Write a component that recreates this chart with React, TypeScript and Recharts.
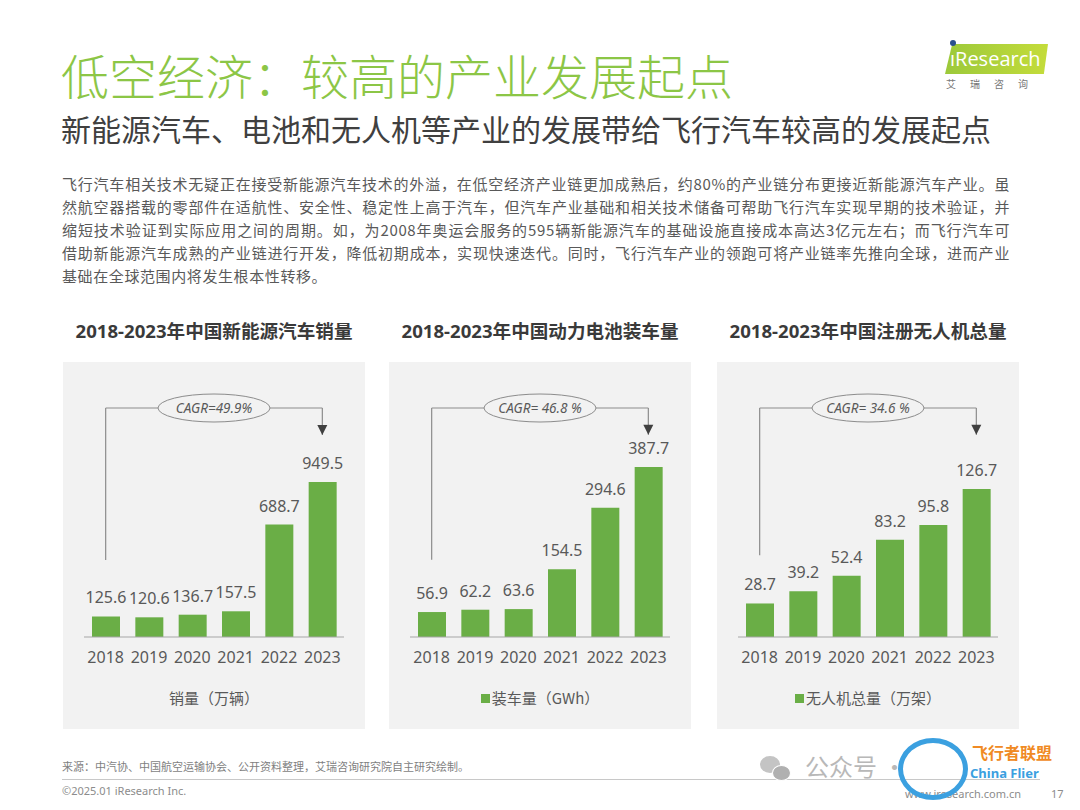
import React from 'react';
import {
  BarChart, Bar, XAxis, YAxis, LabelList, Legend, ReferenceLine, ReferenceDot,
} from 'recharts';

const years = ['2018', '2019', '2020', '2021', '2022', '2023'];
const evSales = [125.6, 120.6, 136.7, 157.5, 688.7, 949.5];
const batteryGwh = [56.9, 62.2, 63.6, 154.5, 294.6, 387.7];
const droneTotal = [28.7, 39.2, 52.4, 83.2, 95.8, 126.7];

const chartTitles = [
  '2018-2023年中国新能源汽车销量',
  '2018-2023年中国动力电池装车量',
  '2018-2023年中国注册无人机总量',
];
const seriesNames = ['销量（万辆）', '装车量（GWh）', '无人机总量（万架）'];
const cagrTexts = ['CAGR=49.9%', 'CAGR= 46.8 %', 'CAGR= 34.6 %'];

const paragraph = [
  '飞行汽车相关技术无疑正在接受新能源汽车技术的外溢，在低空经济产业链更加成熟后，约80%的产业链分布更接近新能源汽车产业。虽',
  '然航空器搭载的零部件在适航性、安全性、稳定性上高于汽车，但汽车产业基础和相关技术储备可帮助飞行汽车实现早期的技术验证，并',
  '缩短技术验证到实际应用之间的周期。如，为2008年奥运会服务的595辆新能源汽车的基础设施直接成本高达3亿元左右；而飞行汽车可',
  '借助新能源汽车成熟的产业链进行开发，降低初期成本，实现快速迭代。同时，飞行汽车产业的领跑可将产业链率先推向全球，进而产业',
  '基础在全球范围内将发生根本性转移。',
];

const GREEN = '#6aae46';
const PANEL = '#f2f2f2';
const TEXT = '#595959';
const LINE = '#8c8c8c';
const CJK = "'Noto Sans CJK SC', 'Noto Sans', sans-serif";
const NUM = "'Noto Sans', 'Noto Sans CJK SC', sans-serif";

// per panel: where it sits, its y range and the CAGR bracket levels (data units)
const panels = [
  { left: 63, values: evSales, yMax: 1403, bracketLow: 472, arrowTip: 1237, swatch: false },
  { left: 389, values: batteryGwh, yMax: 522, bracketLow: 176, arrowTip: 461, swatch: true },
  { left: 717, values: droneTotal, yMax: 196, bracketLow: 70, arrowTip: 173, swatch: true },
];

const CagrBubble = (props: any) => {
  const vb = props.viewBox || {};
  const cx = (vb.x ?? 0) + (vb.width ?? 0) / 2;
  const cy = vb.y ?? 0;
  return (
    <g>
      <ellipse cx={cx} cy={cy} rx={56} ry={14} fill={PANEL} stroke={LINE} strokeWidth={1} />
      <text x={cx} y={cy} dy="0.35em" textAnchor="middle" fontSize={13.5} fontStyle="italic"
        fill={TEXT} fontFamily={NUM}>{props.text}</text>
    </g>
  );
};

const ArrowHead = (props: any) => {
  const { cx, cy } = props;
  return <path d={`M${cx - 5},${cy - 10}L${cx + 5},${cy - 10}L${cx},${cy}Z`} fill="#404040" />;
};

const Caption = ({ name, swatch }: { name: string; swatch: boolean }) => (
  <div style={{
    height: 20, lineHeight: '20px', textAlign: 'center', fontSize: 15, color: TEXT, fontFamily: CJK,
  }}>
    {swatch && (
      <span style={{
        display: 'inline-block', width: 9, height: 9, background: GREEN, marginRight: 2, verticalAlign: 'middle',
        position: 'relative', top: -1,
      }} />
    )}
    {name}
  </div>
);

const Panel = ({ i }: { i: number }) => {
  const p = panels[i];
  const data = years.map((year, k) => ({ year, value: p.values[k] }));
  const first = years[0];
  const last = years[years.length - 1];
  return (
    <>
      <div style={{
        position: 'absolute', left: p.left - 20, top: 318, width: 342, textAlign: 'center',
        fontSize: 18.6, lineHeight: '26px', fontWeight: 700, color: '#3a3a3a', fontFamily: NUM,
      }}>{chartTitles[i]}</div>
      <div style={{ position: 'absolute', left: p.left, top: 362, width: 302, height: 367, background: PANEL }}>
        <BarChart width={302} height={367} data={data} margin={{ top: 46, right: 21, bottom: 21, left: 21 }}>
          <XAxis dataKey="year" interval={0} height={51} tickLine={false} tickMargin={9}
            axisLine={{ stroke: '#a6a6a6' }} tick={{ fontSize: 16, fill: TEXT, fontFamily: NUM }} />
          <YAxis hide domain={[0, p.yMax]} allowDataOverflow />
          <Bar dataKey="value" name={seriesNames[i]} fill={GREEN} barSize={28} isAnimationActive={false}>
            <LabelList dataKey="value" position="top" offset={13} fontSize={16} fill={TEXT} fontFamily={NUM} />
          </Bar>
          <ReferenceLine ifOverflow="visible" stroke={LINE} strokeWidth={1.2}
            segment={[{ x: first, y: p.bracketLow }, { x: first, y: p.yMax }]} />
          <ReferenceLine ifOverflow="visible" stroke={LINE} strokeWidth={1.2}
            segment={[{ x: last, y: p.yMax }, { x: last, y: p.arrowTip }]} />
          <ReferenceLine ifOverflow="visible" stroke={LINE} strokeWidth={1.2}
            segment={[{ x: first, y: p.yMax }, { x: last, y: p.yMax }]}
            label={<CagrBubble text={cagrTexts[i]} />} />
          <ReferenceDot x={last} y={p.arrowTip} ifOverflow="visible" shape={<ArrowHead />} />
          <Legend verticalAlign="bottom"
            content={() => <Caption name={seriesNames[i]} swatch={p.swatch} />} />
        </BarChart>
      </div>
    </>
  );
};

export default function App() {
  return (
    <div style={{
      position: 'relative', width: 1080, height: 810, background: '#fff', overflow: 'hidden', fontFamily: CJK,
    }}>
      <style>{'body{margin:0}'}</style>

      <div style={{
        position: 'absolute', left: 61, top: 46, fontSize: 48, lineHeight: '56px', color: '#8cc646',
        fontWeight: 300, whiteSpace: 'nowrap',
      }}>低空经济：较高的产业发展起点</div>
      <div style={{
        position: 'absolute', left: 61, top: 110, fontSize: 30, lineHeight: '36px', color: '#404040', whiteSpace: 'nowrap',
      }}>新能源汽车、电池和无人机等产业的发展带给飞行汽车较高的发展起点</div>

      {/* logo */}
      <div style={{
        position: 'absolute', left: 945, top: 44, width: 103, height: 30, background: 'linear-gradient(90deg,#9cc93b,#c4dc3a)',
        clipPath: 'polygon(7% 0, 100% 0, 96% 100%, 0 100%)',
      }} />
      <div style={{ position: 'absolute', left: 950, top: 40, width: 6, height: 6, borderRadius: 3, background: '#2a4f8f' }} />
      <div style={{
        position: 'absolute', left: 950, top: 45, fontSize: 20, lineHeight: '28px', color: '#fff',
        fontFamily: "'Open Sans', sans-serif", whiteSpace: 'nowrap',
      }}>ıResearch</div>
      <div style={{
        position: 'absolute', left: 946, top: 77, fontSize: 10, lineHeight: '14px', color: '#777', letterSpacing: 14,
      }}>艾瑞咨询</div>

      <div style={{ position: 'absolute', left: 62, top: 172, width: 948, fontSize: 15, lineHeight: '23px', color: TEXT }}>
        {paragraph.map((line, k) => (
          <div key={k} style={{
            textAlign: k < paragraph.length - 1 ? 'justify' : 'left',
            textAlignLast: k < paragraph.length - 1 ? 'justify' : 'left',
            letterSpacing: 0.6, whiteSpace: 'nowrap',
          }}>{line}</div>
        ))}
      </div>

      <Panel i={0} />
      <Panel i={1} />
      <Panel i={2} />

      <div style={{ position: 'absolute', left: 62, top: 758, fontSize: 11, lineHeight: '16px', color: '#7f7f7f' }}>
        来源：中汽协、中国航空运输协会、公开资料整理，艾瑞咨询研究院自主研究绘制。
      </div>
      <div style={{ position: 'absolute', left: 62, top: 779, width: 978, height: 1, background: '#c8c8c8' }} />
      <div style={{
        position: 'absolute', left: 62, top: 784, fontSize: 11, lineHeight: '14px', color: '#8c8c8c', fontFamily: NUM,
      }}>©2025.01 iResearch Inc.</div>
      <div style={{
        position: 'absolute', left: 905, top: 787, fontSize: 11, lineHeight: '14px', color: '#8c8c8c', fontFamily: NUM,
      }}>www.iresearch.com.cn</div>
      <div style={{
        position: 'absolute', left: 1051, top: 787, fontSize: 11, lineHeight: '14px', color: '#8c8c8c', fontFamily: NUM,
      }}>17</div>

      {/* watermark */}
      <div style={{ position: 'absolute', left: 760, top: 756, width: 20, height: 17, borderRadius: '50%', background: '#c4c4c4' }} />
      <div style={{
        position: 'absolute', left: 772, top: 765, width: 17, height: 14, borderRadius: '50%', background: '#b0b0b0',
        border: '1.5px solid #fff',
      }} />
      <div style={{
        position: 'absolute', left: 805, top: 751, fontSize: 24, lineHeight: '30px', color: '#b8b8b8', whiteSpace: 'nowrap',
      }}>公众号 ·</div>
      <div style={{
        position: 'absolute', left: 898, top: 738, width: 70, height: 62, borderRadius: '50%',
        border: '5px solid #3ba0e0', boxSizing: 'border-box',
      }} />
      <div style={{
        position: 'absolute', left: 972, top: 744, fontSize: 16, lineHeight: '16px', color: '#f08a24', fontWeight: 700, whiteSpace: 'nowrap',
      }}>飞行者联盟</div>
      <div style={{
        position: 'absolute', left: 970, top: 766, fontSize: 13, lineHeight: '14px', color: '#3ba0e0', fontWeight: 700,
        whiteSpace: 'nowrap', fontFamily: NUM,
      }}>China Flier</div>
    </div>
  );
}
